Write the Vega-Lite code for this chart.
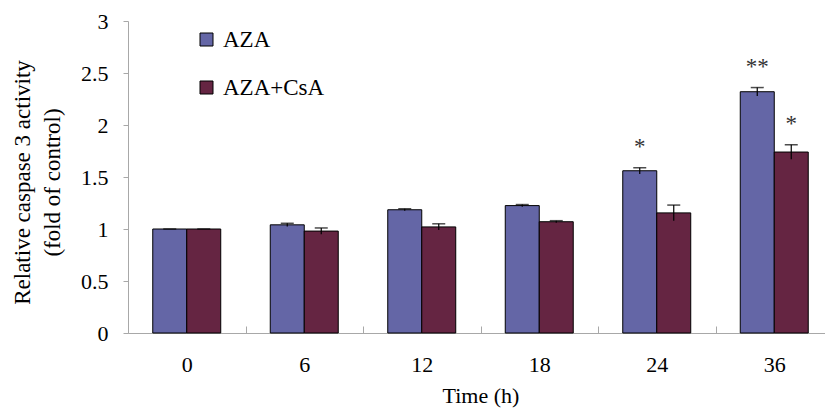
{
  "$schema": "https://vega.github.io/schema/vega-lite/v6.json",
  "autosize": "none",
  "width": 697,
  "height": 312,
  "padding": {"left": 128, "top": 21, "right": 0, "bottom": 75},
  "background": "white",
  "config": {
    "view": {"stroke": null},
    "font": "Liberation Serif",
    "axis": {"labelFont": "Liberation Serif", "titleFont": "Liberation Serif", "labelColor": "black", "titleColor": "black", "titleFontWeight": "normal", "domainColor": "#a8a8a8", "tickColor": "#a8a8a8", "grid": false},
    "legend": {"labelFont": "Liberation Serif"},
    "text": {"font": "Liberation Serif"}
  },
  "data": {"values": [
    {"time": "0", "group": "AZA", "value": 1.0, "lo": 1.0, "hi": 1.0, "sig": ""},
    {"time": "0", "group": "AZA+CsA", "value": 1.0, "lo": 1.0, "hi": 1.0, "sig": ""},
    {"time": "6", "group": "AZA", "value": 1.04, "lo": 1.025, "hi": 1.055, "sig": ""},
    {"time": "6", "group": "AZA+CsA", "value": 0.98, "lo": 0.95, "hi": 1.01, "sig": ""},
    {"time": "12", "group": "AZA", "value": 1.185, "lo": 1.175, "hi": 1.195, "sig": ""},
    {"time": "12", "group": "AZA+CsA", "value": 1.02, "lo": 0.99, "hi": 1.05, "sig": ""},
    {"time": "18", "group": "AZA", "value": 1.225, "lo": 1.215, "hi": 1.235, "sig": ""},
    {"time": "18", "group": "AZA+CsA", "value": 1.07, "lo": 1.06, "hi": 1.08, "sig": ""},
    {"time": "24", "group": "AZA", "value": 1.56, "lo": 1.53, "hi": 1.59, "sig": "*"},
    {"time": "24", "group": "AZA+CsA", "value": 1.155, "lo": 1.08, "hi": 1.23, "sig": ""},
    {"time": "36", "group": "AZA", "value": 2.32, "lo": 2.28, "hi": 2.36, "sig": "**"},
    {"time": "36", "group": "AZA+CsA", "value": 1.74, "lo": 1.67, "hi": 1.81, "sig": "*"}
  ]},
  "encoding": {
    "x": {
      "field": "time", "type": "nominal", "sort": null,
      "scale": {"range": [0, 705], "paddingInner": 0, "paddingOuter": 0},
      "axis": {
        "title": "Time (h)", "labelAngle": 0, "labelFontSize": 22, "titleFontSize": 22,
        "labelFont": "Liberation Serif", "titleFont": "Liberation Serif", "titleFontWeight": "normal",
        "tickBand": "extent", "tickSize": -7, "labelPadding": 28, "titleY": 52, "titleBaseline": "top"
      }
    },
    "xOffset": {"field": "group", "type": "nominal", "scale": {"paddingInner": 0, "paddingOuter": 0.728}}
  },
  "layer": [
    {
      "mark": {"type": "bar", "stroke": "black", "strokeWidth": 1},
      "encoding": {
        "y": {
          "field": "value", "type": "quantitative",
          "scale": {"domain": [0, 3], "nice": false},
          "axis": {
            "title": ["Relative caspase 3 activity", "(fold of control)"],
            "values": [0, 0.5, 1, 1.5, 2, 2.5, 3], "format": "~g",
            "labelFont": "Liberation Serif", "titleFont": "Liberation Serif", "titleFontWeight": "normal",
            "labelFontSize": 22, "titleFontSize": 23, "tickSize": 5, "labelPadding": 15,
            "titleLineHeight": 30, "titleX": -106, "titleY": 161, "titleBaseline": "middle", "titleAngle": -90
          }
        },
        "fill": {
          "field": "group", "type": "nominal",
          "scale": {"domain": ["AZA", "AZA+CsA"], "range": ["#6466a6", "#652542"]},
          "legend": {
            "title": null, "orient": "none", "legendX": 67, "legendY": 7, "padding": 0,
            "symbolType": "square", "symbolSize": 169, "symbolStrokeColor": "black", "symbolStrokeWidth": 1,
            "labelFont": "Liberation Serif", "labelFontSize": 23, "labelOffset": 5, "rowPadding": 24, "labelColor": "black"
          }
        }
      }
    },
    {
      "mark": {"type": "rule", "color": "black", "strokeWidth": 1.2},
      "encoding": {
        "y": {"field": "lo", "type": "quantitative"},
        "y2": {"field": "hi"}
      }
    },
    {
      "mark": {"type": "tick", "color": "black", "size": 13, "thickness": 1.5},
      "encoding": {
        "y": {"field": "hi", "type": "quantitative"}
      }
    },
    {
      "transform": [{"filter": "datum.sig != ''"}],
      "mark": {"type": "text", "fontSize": 23, "color": "#333333", "baseline": "alphabetic", "dy": -14, "font": "Liberation Serif"},
      "encoding": {
        "y": {"field": "hi", "type": "quantitative"},
        "text": {"field": "sig"}
      }
    }
  ]
}
